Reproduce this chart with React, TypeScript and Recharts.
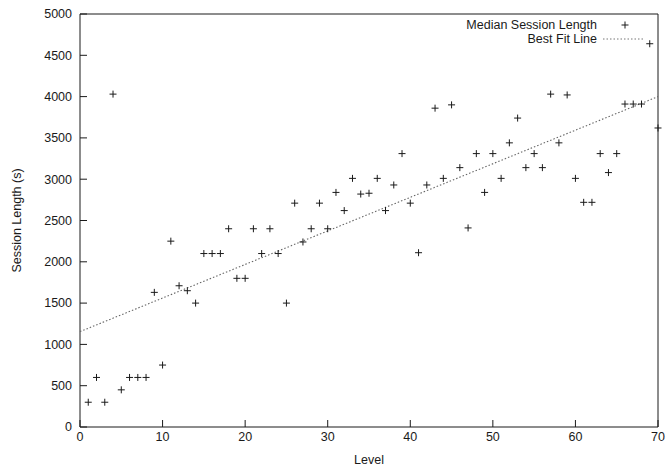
import { ComposedChart, Scatter, XAxis, YAxis } from "recharts";

// median session length per level (seconds)
const levels = [
  1, 2, 3, 4, 5, 6, 7, 8, 9, 10, 11, 12, 13, 14, 15, 16, 17, 18, 19, 20, 21, 22, 23, 24, 25,
  26, 27, 28, 29, 30, 31, 32, 33, 34, 35, 36, 37, 38, 39, 40, 41, 42, 43, 44, 45, 46, 47, 48, 49, 50,
  51, 52, 53, 54, 55, 56, 57, 58, 59, 60, 61, 62, 63, 64, 65, 66, 67, 68, 69, 70,
];
const medianLength = [
  300, 600, 300, 4030, 450, 600, 600, 600, 1630, 750, 2250, 1710, 1650, 1500, 2100, 2100, 2100, 2400, 1800, 1800, 2400, 2100, 2400, 2100, 1500,
  2710, 2240, 2400, 2710, 2400, 2840, 2620, 3010, 2820, 2830, 3010, 2620, 2930, 3310, 2710, 2110, 2930, 3860, 3010, 3900, 3140, 2410, 3310, 2840, 3310,
  3010, 3440, 3740, 3140, 3310, 3140, 4030, 3440, 4020, 3010, 2720, 2720, 3310, 3080, 3310, 3910, 3910, 3910, 4640, 3620,
];

// best fit line end points
const fitLevels = [0, 70];
const fitLength = [1155, 4000];

const xTicks = [0, 10, 20, 30, 40, 50, 60, 70];
const yTicks = [0, 500, 1000, 1500, 2000, 2500, 3000, 3500, 4000, 4500, 5000];

const points = levels.map((lv, i) => ({ level: lv, length: medianLength[i] }));
const fit = fitLevels.map((lv, i) => ({ level: lv, length: fitLength[i] }));

const FONT = "'Liberation Sans', Arial, Helvetica, sans-serif";
const INK = "#1a1a1a";
const TICK = 7;

const Plus = (props: any) => {
  const { cx, cy } = props;
  if (cx == null || cy == null) return null;
  return (
    <g stroke={INK} strokeWidth={1}>
      <line x1={cx - 3.5} x2={cx + 3.5} y1={cy} y2={cy} />
      <line x1={cx} x2={cx} y1={cy - 3.5} y2={cy + 3.5} />
    </g>
  );
};

const BottomTick = (props: any) => {
  const { x, y, payload } = props;
  const axisY = y - 5;
  return (
    <g>
      <line x1={x} x2={x} y1={axisY} y2={axisY - TICK} stroke={INK} />
      <text x={x} y={y} dy="0.71em" textAnchor="middle" fill={INK} fontSize={12.5} fontFamily={FONT}>
        {payload.value}
      </text>
    </g>
  );
};

const LeftTick = (props: any) => {
  const { x, y, payload } = props;
  const axisX = x + 8;
  return (
    <g>
      <line x1={axisX} x2={axisX + TICK} y1={y} y2={y} stroke={INK} />
      <text x={x} y={y} dy="0.35em" textAnchor="end" fill={INK} fontSize={12.5} fontFamily={FONT}>
        {payload.value}
      </text>
    </g>
  );
};

const TopTick = (props: any) => {
  const { x, y } = props;
  return <line x1={x} x2={x} y1={y} y2={y + TICK} stroke={INK} />;
};

const RightTick = (props: any) => {
  const { x, y } = props;
  return <line x1={x} x2={x - TICK} y1={y} y2={y} stroke={INK} />;
};

const ChartLegend = () => (
  <div
    style={{
      position: "absolute",
      top: 18,
      right: 22,
      fontFamily: FONT,
      fontSize: 12.5,
      color: INK,
      lineHeight: "14px",
    }}
  >
    <div style={{ display: "flex", justifyContent: "flex-end", alignItems: "center" }}>
      <span>Median Session Length</span>
      <svg width={44} height={14} style={{ marginLeft: 5 }}>
        <Plus cx={23} cy={7} />
      </svg>
    </div>
    <div style={{ display: "flex", justifyContent: "flex-end", alignItems: "center" }}>
      <span>Best Fit Line</span>
      <svg width={44} height={14} style={{ marginLeft: 5 }}>
        <line x1={1} x2={43} y1={7} y2={7} stroke="#777" strokeDasharray="1.5 2" />
      </svg>
    </div>
  </div>
);

export default function App() {
  return (
    <div style={{ position: "absolute", left: 0, top: 0, width: 668, height: 471, background: "#fff" }}>
      <ComposedChart width={668} height={471} margin={{ top: 13, right: 9, bottom: 4, left: 0 }}>
        <XAxis
          dataKey="level"
          type="number"
          domain={[0, 70]}
          ticks={xTicks}
          interval={0}
          height={40}
          tickSize={0}
          tickMargin={5}
          tick={<BottomTick />}
          axisLine={{ stroke: INK }}
          label={{ value: "Level", position: "insideBottom", offset: 3, fill: INK, fontSize: 12.5, fontFamily: FONT }}
        />
        <XAxis
          xAxisId="top"
          dataKey="level"
          orientation="top"
          type="number"
          domain={[0, 70]}
          ticks={xTicks}
          interval={0}
          height={1}
          tickSize={0}
          tickMargin={0}
          tick={<TopTick />}
          axisLine={{ stroke: INK }}
        />
        <YAxis
          dataKey="length"
          type="number"
          domain={[0, 5000]}
          ticks={yTicks}
          interval={0}
          width={80}
          tickSize={0}
          tickMargin={8}
          tick={<LeftTick />}
          axisLine={{ stroke: INK }}
          label={{
            value: "Session Length (s)",
            angle: -90,
            position: "insideLeft",
            offset: 17,
            fill: INK,
            fontSize: 12.5,
            fontFamily: FONT,
            style: { textAnchor: "middle" },
          }}
        />
        <YAxis
          yAxisId="right"
          dataKey="length"
          orientation="right"
          type="number"
          domain={[0, 5000]}
          ticks={yTicks}
          interval={0}
          width={1}
          tickSize={0}
          tickMargin={0}
          tick={<RightTick />}
          axisLine={{ stroke: INK }}
        />
        <Scatter
          name="Best Fit Line"
          data={fit}
          line={{ stroke: "#666", strokeDasharray: "1.5 2", strokeWidth: 1.1 }}
          shape={() => null}
          isAnimationActive={false}
        />
        <Scatter name="Median Session Length" data={points} shape={<Plus />} isAnimationActive={false} />
        <Scatter xAxisId="top" yAxisId="right" data={[]} isAnimationActive={false} />
      </ComposedChart>
      <ChartLegend />
    </div>
  );
}
